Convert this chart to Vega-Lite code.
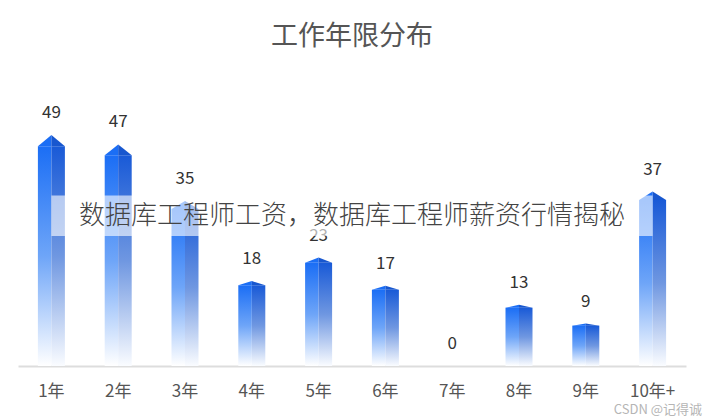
{
  "$schema": "https://vega.github.io/schema/vega-lite/v6.json",
  "width": 668,
  "height": 305,
  "autosize": {"type": "none"},
  "padding": {"left": 18, "right": 18, "top": 61, "bottom": 53},
  "background": "white",
  "config": {"view": {"stroke": null}, "font": "Noto Sans CJK SC"},
  "title": {"text": "工作年限分布", "fontSize": 27, "fontWeight": "normal", "color": "#555555", "offset": 10, "anchor": "middle", "font": "Noto Sans CJK SC"},
  "data": {"values": [
    {"year": "1年", "count": 49},
    {"year": "2年", "count": 47},
    {"year": "3年", "count": 35},
    {"year": "4年", "count": 18},
    {"year": "5年", "count": 23},
    {"year": "6年", "count": 17},
    {"year": "7年", "count": 0},
    {"year": "8年", "count": 13},
    {"year": "9年", "count": 9},
    {"year": "10年+", "count": 37}
  ]},
  "encoding": {
    "x": {"field": "year", "type": "nominal", "sort": null,
      "scale": {"paddingInner": 0, "paddingOuter": 0},
      "axis": {"title": null, "labelAngle": 0, "labelFontSize": 17, "labelColor": "#555555", "ticks": false, "domainColor": "#dddddd", "domainWidth": 2, "labelPadding": 17, "labelFont": "Noto Sans CJK SC"}}
  },
  "layer": [
    {
      "mark": {"type": "bar", "width": 13.5, "xOffset": -6.75, "color": {"gradient": "linear", "x1": 0, "y1": 0, "x2": 0, "y2": 1, "stops": [
        {"offset": 0, "color": "#1b6ef5"},
        {"offset": 0.5, "color": "#6ea5f8"},
        {"offset": 1, "color": "#ffffff"}]}},
      "encoding": {"y": {"field": "count", "type": "quantitative", "scale": {"domain": [0, 68]}, "axis": null}}
    },
    {
      "mark": {"type": "bar", "width": 13.5, "xOffset": 6.75, "color": {"gradient": "linear", "x1": 0, "y1": 0, "x2": 0, "y2": 1, "stops": [
        {"offset": 0, "color": "#195ad7"},
        {"offset": 0.5, "color": "#6f97e1"},
        {"offset": 1, "color": "#fafcff"}]}},
      "encoding": {"y": {"field": "count", "type": "quantitative", "scale": {"domain": [0, 68]}, "axis": null}}
    },
    {
      "mark": {"type": "point", "filled": true, "opacity": 1, "size": 729, "color": "#1b6ef5", "strokeWidth": 0},
      "encoding": {
        "y": {"field": "count", "type": "quantitative", "scale": {"domain": [0, 68]}, "axis": null},
        "shape": {"field": "year", "type": "nominal", "legend": null, "scale": {
          "domain": ["1年", "2年", "3年", "4年", "5年", "6年", "7年", "8年", "9年", "10年+"],
          "range": ["M-1,0L0,-0.83L0,0Z", "M-1,0L0,-0.8L0,0Z", "M-1,0L0,-0.6L0,0Z", "M-1,0L0,-0.31L0,0Z", "M-1,0L0,-0.39L0,0Z", "M-1,0L0,-0.29L0,0Z", "M-1,0L0,0L0,0Z", "M-1,0L0,-0.22L0,0Z", "M-1,0L0,-0.15L0,0Z", "M-1,0L0,-0.63L0,0Z"]}}
      }
    },
    {
      "mark": {"type": "point", "filled": true, "opacity": 1, "size": 729, "color": "#1857cf", "strokeWidth": 0},
      "encoding": {
        "y": {"field": "count", "type": "quantitative", "scale": {"domain": [0, 68]}, "axis": null},
        "shape": {"field": "year", "type": "nominal", "legend": null, "scale": {
          "domain": ["1年", "2年", "3年", "4年", "5年", "6年", "7年", "8年", "9年", "10年+"],
          "range": ["M0,0L0,-0.83L1,0Z", "M0,0L0,-0.8L1,0Z", "M0,0L0,-0.6L1,0Z", "M0,0L0,-0.31L1,0Z", "M0,0L0,-0.39L1,0Z", "M0,0L0,-0.29L1,0Z", "M0,0L0,0L1,0Z", "M0,0L0,-0.22L1,0Z", "M0,0L0,-0.15L1,0Z", "M0,0L0,-0.63L1,0Z"]}}
      }
    },
    {
      "mark": {"type": "text", "fontSize": 17, "color": "#333333", "baseline": "alphabetic", "dy": -17, "font": "Noto Sans CJK SC"},
      "encoding": {
        "y": {"field": "count", "type": "quantitative", "scale": {"domain": [0, 64.68]}, "axis": null},
        "text": {"field": "count", "type": "quantitative"}
      }
    },
    {
      "data": {"values": [{"note": "数据库工程师工资，数据库工程师薪资行情揭秘"}]},
      "mark": {"type": "rect", "color": "#ffffff", "opacity": 0.62},
      "encoding": {
        "x": {"datum": "1年", "type": "nominal", "bandPosition": 0.5},
        "x2": {"datum": "10年+", "bandPosition": 0.5},
        "y": {"datum": 38, "type": "quantitative", "scale": {"domain": [0, 68]}, "axis": null},
        "y2": {"datum": 29}
      }
    },
    {
      "data": {"values": [{"note": "数据库工程师工资，数据库工程师薪资行情揭秘"}]},
      "mark": {"type": "text", "fontSize": 26, "fontWeight": 300, "color": "#444444", "baseline": "middle", "align": "center", "font": "Noto Sans CJK SC"},
      "encoding": {
        "x": {"datum": "5年", "type": "nominal", "bandPosition": 1},
        "y": {"datum": 33.5, "type": "quantitative", "scale": {"domain": [0, 68]}, "axis": null},
        "text": {"field": "note", "type": "nominal"}
      }
    },
    {
      "data": {"values": [{"note": "CSDN @记得诚"}]},
      "mark": {"type": "text", "fontSize": 13, "color": "#b5b5b5", "baseline": "middle", "align": "right", "dx": 16, "font": "Noto Sans CJK SC"},
      "encoding": {
        "x": {"datum": "10年+", "type": "nominal", "bandPosition": 1},
        "y": {"datum": -9.8, "type": "quantitative", "scale": {"domain": [0, 68]}, "axis": null},
        "text": {"field": "note", "type": "nominal"}
      }
    }
  ],
  "resolve": {"scale": {"y": "independent", "shape": "independent"}}
}
